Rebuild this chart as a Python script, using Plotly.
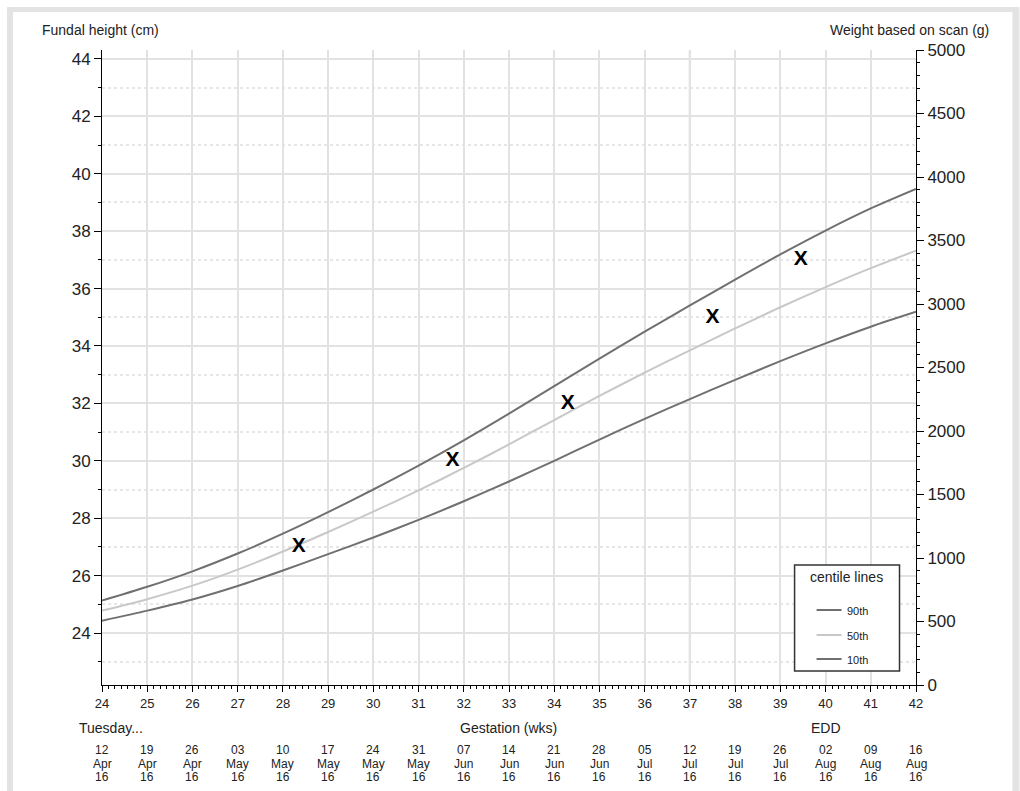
import plotly.graph_objects as go

# ---------------- data ----------------
weeks = list(range(24, 43))
centile_90 = [25.13, 25.61, 26.15, 26.77, 27.46, 28.21, 29.00, 29.83, 30.71, 31.64,
              32.60, 33.56, 34.50, 35.41, 36.31, 37.19, 38.02, 38.79, 39.47]
centile_50 = [24.78, 25.18, 25.65, 26.21, 26.84, 27.52, 28.23, 28.97, 29.75, 30.57,
              31.42, 32.26, 33.07, 33.85, 34.61, 35.35, 36.05, 36.71, 37.32]
centile_10 = [24.43, 24.78, 25.17, 25.64, 26.18, 26.75, 27.33, 27.94, 28.59, 29.28,
              30.00, 30.74, 31.46, 32.15, 32.82, 33.47, 34.09, 34.67, 35.19]

measure_weeks = [28.35, 31.75, 34.3, 37.5, 39.45]
measure_cm = [27, 30, 32, 35, 37]

date_day = ["12", "19", "26", "03", "10", "17", "24", "31", "07", "14",
            "21", "28", "05", "12", "19", "26", "02", "09", "16"]
date_month = ["Apr", "Apr", "Apr", "May", "May", "May", "May", "May", "Jun", "Jun",
              "Jun", "Jun", "Jul", "Jul", "Jul", "Jul", "Aug", "Aug", "Aug"]
date_year = ["16"] * 19

legend_names = ["90th", "50th", "10th"]

today_week = 37
edd_week = 40

# ---------------- geometry helpers (pixel -> paper) ----------------
W, H = 1020, 791
L, R, T, B = 102, 916.5, 50, 685


def px(x):
    return (x - L) / (R - L)


def py(y):
    return (B - y) / (B - T)


FONT = "Liberation Sans, Arial, sans-serif"
TXT = "#222222"
line_dark = "#707070"
line_light = "#c8c8c8"
series_colors = [line_dark, line_light, line_dark]

fig = go.Figure()
for name, vals, col in zip(legend_names, [centile_90, centile_50, centile_10], series_colors):
    fig.add_trace(go.Scatter(x=weeks, y=vals, mode="lines", name=name,
                             line=dict(color=col, width=2, shape="spline", smoothing=0.8),
                             showlegend=False))
fig.add_trace(go.Scatter(x=measure_weeks, y=measure_cm, mode="text", text=["X"] * len(measure_cm),
                         textposition="middle center",
                         textfont=dict(family="Liberation Sans, Arial", size=21, color="black",
                                       weight="bold"),
                         showlegend=False, hoverinfo="x+y"))
# invisible trace to activate right axis
fig.add_trace(go.Scatter(x=[24, 42], y=[0, 5000], yaxis="y2", mode="lines",
                         line=dict(width=0), showlegend=False, hoverinfo="skip", opacity=0))

grid_c = "#e2e2e2"
fig.update_layout(
    width=W, height=H,
    margin=dict(l=L, r=W - R, t=T, b=H - B, pad=0),
    paper_bgcolor="white", plot_bgcolor="white",
    font=dict(family=FONT, color=TXT),
    showlegend=False,
    xaxis=dict(range=[24, 42], tickmode="linear", tick0=24, dtick=1,
               showgrid=True, gridcolor=grid_c, gridwidth=2,
               showline=True, linecolor="black", linewidth=1,
               ticks="outside", ticklen=6, tickcolor="black",
               tickfont=dict(size=13, color=TXT),
               minor=dict(dtick=1 / 7, tick0=24, ticks="outside", ticklen=3,
                          tickcolor="black", showgrid=False),
               zeroline=False),
    yaxis=dict(range=[22.19, 44.31], tickmode="linear", tick0=24, dtick=2,
               showgrid=True, gridcolor=grid_c, gridwidth=2,
               showline=True, linecolor="black", linewidth=1,
               ticks="outside", ticklen=7, tickcolor="black",
               tickfont=dict(size=17, color=TXT),
               minor=dict(dtick=1, tick0=23, ticks="outside", ticklen=3,
                          tickcolor="black", showgrid=True, gridcolor="#e6e6e6",
                          griddash="dot", gridwidth=2),
               zeroline=False),
    yaxis2=dict(range=[0, 5000], overlaying="y", side="right", tickmode="linear",
                tick0=0, dtick=500, showgrid=False,
                showline=True, linecolor="black", linewidth=1,
                ticks="outside", ticklen=7, tickcolor="black",
                tickfont=dict(size=17, color=TXT),
                minor=dict(dtick=100, ticks="outside", ticklen=3, tickcolor="black",
                           showgrid=False),
                zeroline=False),
)

# frame around the panel, "today" line, legend box
shapes = [
    dict(type="rect", xref="paper", yref="paper", x0=px(7), x1=px(1020), y0=py(791), y1=py(7),
         fillcolor="#e3e3e3", line=dict(width=0), layer="below"),
    dict(type="rect", xref="paper", yref="paper", x0=px(13), x1=px(1013), y0=py(791), y1=py(12),
         fillcolor="white", line=dict(width=0), layer="below"),
    dict(type="line", xref="x", yref="paper", x0=today_week, x1=today_week, y0=0, y1=1,
         line=dict(color="#a6a6a6", width=2), layer="below"),
    dict(type="rect", xref="paper", yref="paper", x0=px(795), x1=px(900), y0=py(671), y1=py(565),
         fillcolor="white", line=dict(color="#333333", width=1.5), layer="above"),
]
legend_rows = [610, 635, 659]
for col, yrow in zip(series_colors, legend_rows):
    shapes.append(dict(type="line", xref="paper", yref="paper", x0=px(817), x1=px(842),
                       y0=py(yrow), y1=py(yrow), line=dict(color=col, width=2), layer="above"))
fig.update_layout(shapes=shapes)

ann = []
ann.append(dict(text="Fundal height (cm)", xref="paper", yref="paper", x=px(40), y=py(30),
                xanchor="left", yanchor="middle", showarrow=False, font=dict(size=14, color=TXT)))
ann.append(dict(text="Weight based on scan (g)", xref="paper", yref="paper", x=px(992), y=py(30),
                xanchor="right", yanchor="middle", showarrow=False, font=dict(size=14, color=TXT)))
ann.append(dict(text="Tuesday...", xref="paper", yref="paper", x=px(77), y=py(728),
                xanchor="left", yanchor="middle", showarrow=False, font=dict(size=14, color=TXT)))
ann.append(dict(text="Gestation (wks)", xref="paper", yref="paper", x=px(509), y=py(728),
                xanchor="center", yanchor="middle", showarrow=False, font=dict(size=14, color=TXT)))
ann.append(dict(text="EDD", xref="x", yref="paper", x=edd_week, y=py(728),
                xanchor="center", yanchor="middle", showarrow=False, font=dict(size=14, color=TXT)))
for w, d, m, yv in zip(weeks, date_day, date_month, date_year):
    for txt, ypix in ((d, 750), (m, 763.5), (yv, 777)):
        ann.append(dict(text=txt, xref="x", yref="paper", x=w, y=py(ypix),
                        xanchor="center", yanchor="middle", showarrow=False,
                        font=dict(size=12, color=TXT)))
# legend texts
ann.append(dict(text="centile lines", xref="paper", yref="paper", x=px(847), y=py(577),
                xanchor="center", yanchor="middle", showarrow=False, font=dict(size=14, color=TXT)))
for name, yrow in zip(legend_names, legend_rows):
    ann.append(dict(text=name, xref="paper", yref="paper", x=px(845), y=py(yrow + 1),
                    xanchor="left", yanchor="middle", showarrow=False,
                    font=dict(size=11, color=TXT)))
fig.update_layout(annotations=ann)

fig.write_html("out.html", config={"displayModeBar": False},
               post_script="document.body.style.margin='0';")
